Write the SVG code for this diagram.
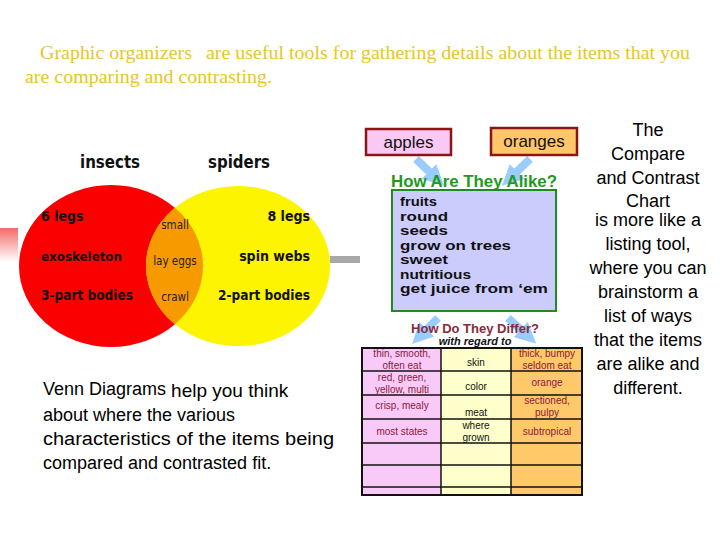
<svg xmlns="http://www.w3.org/2000/svg" width="720" height="540" viewBox="0 0 720 540">
<defs>
<linearGradient id="pinkfade" x1="0" y1="0" x2="0" y2="1">
<stop offset="0" stop-color="#f46a6a"/>
<stop offset="1" stop-color="#ffffff"/>
</linearGradient>
<marker id="ah" viewBox="0 0 10 10" refX="6" refY="5" markerWidth="2.6" markerHeight="2.6" orient="auto">
<path d="M0,0 L10,5 L0,10 z" fill="#99ccff"/>
</marker>
<clipPath id="redclip"><ellipse cx="111" cy="266" rx="92" ry="81"/></clipPath>
</defs>
<style>
.hdr{font-family:"Liberation Serif",serif;font-size:18px;fill:#e8c52a}
.body{font-family:"Liberation Sans",Arial,sans-serif;font-size:18px;fill:#000}
.vt{font-family:"DejaVu Sans Condensed","Liberation Sans",sans-serif;font-weight:bold;fill:#111}
.vs{font-family:"DejaVu Sans Condensed","Liberation Sans",sans-serif;font-size:11.5px;fill:#222}
.ch{font-family:"Liberation Sans",Arial,sans-serif;fill:#111}
.cell{font-family:"Liberation Sans",Arial,sans-serif;font-size:10px;text-anchor:middle}
.mar{fill:#8b1a3a}
.blk{fill:#111}
.arrow{stroke:#99ccff;stroke-width:8;fill:none;marker-end:url(#ah)}
.tl{stroke:#111;stroke-width:1.5}
</style>

<g id="header">
<text class="hdr" x="40" y="59" textLength="152" lengthAdjust="spacingAndGlyphs">Graphic organizers</text>
<text class="hdr" x="206" y="59" textLength="484" lengthAdjust="spacingAndGlyphs">are useful tools for gathering details about the items that you</text>
<text class="hdr" x="25" y="83" textLength="247" lengthAdjust="spacingAndGlyphs">are comparing and contrasting.</text>
</g>

<g id="decor">
<rect x="0" y="228" width="18" height="34" fill="url(#pinkfade)"/>
<rect x="330" y="256" width="30" height="7" fill="#a8a8a8"/>
</g>

<g id="venn">
<ellipse cx="111" cy="266" rx="92" ry="81" fill="#fb0000"/>
<ellipse cx="238" cy="266" rx="92" ry="80" fill="#fcf400"/>
<ellipse cx="238" cy="266" rx="92" ry="80" fill="#f79a00" clip-path="url(#redclip)"/>
<text class="vt" x="80" y="168" font-size="18" textLength="60" lengthAdjust="spacingAndGlyphs">insects</text>
<text class="vt" x="208" y="168" font-size="18" textLength="62" lengthAdjust="spacingAndGlyphs">spiders</text>
<text class="vt" x="41" y="221" font-size="14">6 legs</text>
<text class="vt" x="41" y="261" font-size="13" textLength="81" lengthAdjust="spacingAndGlyphs">exoskeleton</text>
<text class="vt" x="41" y="300" font-size="14" textLength="92" lengthAdjust="spacingAndGlyphs">3-part bodies</text>
<text class="vt" x="310" y="221" font-size="14" text-anchor="end">8 legs</text>
<text class="vt" x="310" y="261" font-size="14" text-anchor="end">spin webs</text>
<text class="vt" x="310" y="300" font-size="14" text-anchor="end" textLength="92" lengthAdjust="spacingAndGlyphs">2-part bodies</text>
<text class="vs" x="175" y="229" text-anchor="middle">small</text>
<text class="vs" x="175" y="265" text-anchor="middle">lay eggs</text>
<text class="vs" x="175" y="301" text-anchor="middle">crawl</text>
</g>

<g id="venn-caption">
<text class="body" x="43" y="395">Venn Diagrams <tspan font-size="19" dy="2">help you think</tspan></text>
<text class="body" x="43" y="421">about where the various</text>
<text class="body" x="43" y="445" textLength="291" lengthAdjust="spacingAndGlyphs">characteristics of the items being</text>
<text class="body" x="43" y="469">compared and contrasted fit.</text>
</g>

<g id="chart-caption">
<text class="body" x="648" y="136" text-anchor="middle">The</text>
<text class="body" x="648" y="160" text-anchor="middle">Compare</text>
<text class="body" x="648" y="184" text-anchor="middle">and Contrast</text>
<text class="body" x="648" y="207" text-anchor="middle">Chart</text>
<text class="body" x="648" y="226" text-anchor="middle">is more like a</text>
<text class="body" x="648" y="250" text-anchor="middle">listing tool,</text>
<text class="body" x="648" y="274" text-anchor="middle">where you can</text>
<text class="body" x="648" y="298" text-anchor="middle">brainstorm a</text>
<text class="body" x="648" y="322" text-anchor="middle">list of ways</text>
<text class="body" x="648" y="346" text-anchor="middle">that the items</text>
<text class="body" x="648" y="370" text-anchor="middle">are alike and</text>
<text class="body" x="648" y="394" text-anchor="middle">different.</text>
</g>

<g id="connectors">
<path class="arrow" d="M416,159 L438,180"/>
<path class="arrow" d="M530,159 L508,180"/>
<path class="arrow" d="M438,318 L418,338"/>
<path class="arrow" d="M508,318 L530,338"/>
</g>

<g id="apples">
<rect x="366" y="129" width="85" height="26" fill="#f9c9f4" stroke="#8b1414" stroke-width="2.5"/>
<text class="ch" x="408.5" y="148" font-size="17" text-anchor="middle">apples</text>
</g>

<g id="oranges">
<rect x="491" y="128" width="86" height="27" fill="#ffc66a" stroke="#8b1414" stroke-width="2.5"/>
<text class="ch" x="534" y="147" font-size="17" text-anchor="middle">oranges</text>
</g>

<g id="alike">
<text x="391" y="187" font-family="Liberation Sans,Arial,sans-serif" font-weight="bold" font-size="16.5" fill="#1f9a1f" textLength="166" lengthAdjust="spacingAndGlyphs">How Are They Alike?</text>
<rect x="392" y="190" width="164" height="121" fill="#ccccfc" stroke="#1e8c1e" stroke-width="2"/>
<g class="ch" font-size="13" font-weight="bold">
<text x="400" y="206" textLength="37" lengthAdjust="spacingAndGlyphs">fruits</text>
<text x="400" y="220.5" textLength="48" lengthAdjust="spacingAndGlyphs">round</text>
<text x="400" y="235" textLength="48" lengthAdjust="spacingAndGlyphs">seeds</text>
<text x="400" y="249.5" textLength="111" lengthAdjust="spacingAndGlyphs">grow on trees</text>
<text x="400" y="264" textLength="48" lengthAdjust="spacingAndGlyphs">sweet</text>
<text x="400" y="278.5" textLength="71" lengthAdjust="spacingAndGlyphs">nutritious</text>
<text x="400" y="293" textLength="148" lengthAdjust="spacingAndGlyphs">get juice from ‘em</text>
</g>
</g>

<g id="differ">
<text x="475" y="333" font-family="Liberation Sans,Arial,sans-serif" font-weight="bold" font-size="13" fill="#8b2a3a" text-anchor="middle">How Do They Differ?</text>
<text x="475" y="345" font-family="Liberation Sans,Arial,sans-serif" font-weight="bold" font-style="italic" font-size="11" fill="#111" text-anchor="middle">with regard to</text>
</g>

<g id="table">
<rect x="362" y="348" width="79" height="147" fill="#f9c9f7"/>
<rect x="441" y="348" width="70" height="147" fill="#ffffcc"/>
<rect x="511" y="348" width="71" height="147" fill="#ffc868"/>
<line class="tl" x1="362" y1="371" x2="582" y2="371"/>
<line class="tl" x1="362" y1="395" x2="582" y2="395"/>
<line class="tl" x1="362" y1="419" x2="582" y2="419"/>
<line class="tl" x1="362" y1="443" x2="582" y2="443"/>
<line class="tl" x1="362" y1="465" x2="582" y2="465"/>
<line class="tl" x1="362" y1="487" x2="582" y2="487"/>
<line class="tl" x1="441" y1="348" x2="441" y2="495"/>
<line class="tl" x1="511" y1="348" x2="511" y2="495"/>
<rect x="362" y="348" width="220" height="147" fill="none" stroke="#111" stroke-width="2"/>
<text class="cell mar" x="402" y="357">thin, smooth,</text>
<text class="cell mar" x="402" y="368.5">often eat</text>
<text class="cell blk" x="476" y="366">skin</text>
<text class="cell mar" x="547" y="357">thick, bumpy</text>
<text class="cell mar" x="547" y="368.5">seldom eat</text>
<text class="cell mar" x="402" y="381">red, green,</text>
<text class="cell mar" x="402" y="392.5">yellow, multi</text>
<text class="cell blk" x="476" y="390">color</text>
<text class="cell mar" x="547" y="386">orange</text>
<text class="cell mar" x="402" y="409">crisp, mealy</text>
<text class="cell blk" x="476" y="416">meat</text>
<text class="cell mar" x="547" y="404">sectioned,</text>
<text class="cell mar" x="547" y="416">pulpy</text>
<text class="cell mar" x="402" y="435">most states</text>
<text class="cell blk" x="476" y="429">where</text>
<text class="cell blk" x="476" y="441">grown</text>
<text class="cell mar" x="547" y="435">subtropical</text>
</g>
</svg>
